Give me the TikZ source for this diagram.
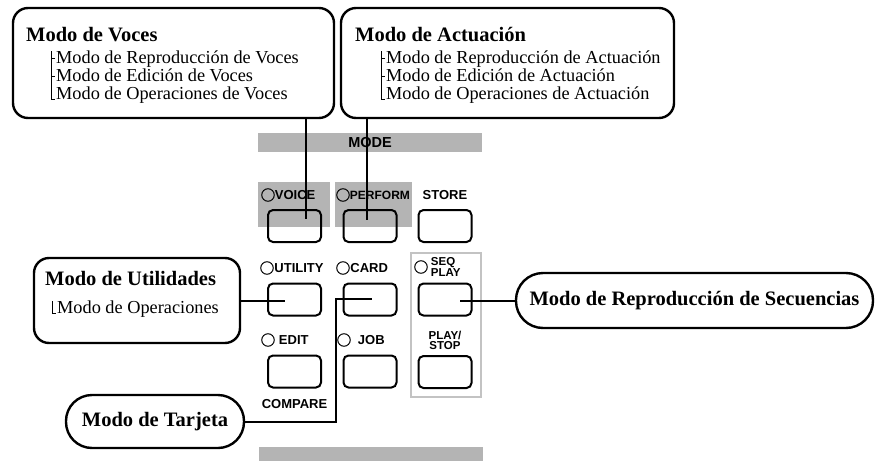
\documentclass[tikz,border=0pt]{standalone}
\usepackage{fontspec}
\setmainfont{Liberation Serif}
\setsansfont{Liberation Sans}
\usetikzlibrary{positioning, calc}
\definecolor{panelgray}{RGB}{180,180,180}
\definecolor{rimgray}{RGB}{195,195,195}

\begin{document}
\begin{tikzpicture}[x=1pt, y=-1pt,
    callout/.style={draw, line width=2.4pt, rounded corners=15pt, inner sep=0pt},
    pill/.style={draw, line width=2.4pt, inner sep=0pt, font=\fontsize{20.5}{22}\selectfont\bfseries},
    modetitle/.style={anchor=base west, inner sep=0pt, font=\fontsize{20.5}{22}\selectfont\bfseries},
    submode/.style={anchor=base west, inner sep=0pt, font=\fontsize{18.3}{20}\selectfont},
    key/.style={draw, line width=2pt, rounded corners=5pt, minimum width=53pt, minimum height=32pt, inner sep=0pt},
    lamp/.style={draw, circle, line width=1pt, minimum size=12.5pt, inner sep=0pt},
    keylabel/.style={inner sep=0pt, align=center, font=\sffamily\bfseries\fontsize{13}{10}\selectfont},
    twoline/.style={keylabel, font=\sffamily\bfseries\fontsize{11.5}{10}\selectfont},
    lead/.style={line width=2pt},
    treeline/.style={line width=0.8pt}
  ]
  \useasboundingbox (0,0) rectangle (876,461);

  % panel
  \fill[panelgray] (258,182) rectangle (330,227);
  \fill[panelgray] (335,182) rectangle (412,227);
  \node[fill=panelgray, minimum width=224pt, minimum height=19pt, inner sep=0pt,
        font=\sffamily\bfseries\fontsize{14.5}{14}\selectfont] (modebar) at (370,142.5) {MODE};
  \fill[panelgray] (259,447) rectangle (483,461);
  \draw[rimgray, line width=2.5pt] (411,253) rectangle (481,397);

  % keys
  \node[key] (bvoice)   at (294.5,226)   {};
  \node[key] (bperform) at (370,226)     {};
  \node[key] (bstore)   at (445,226)     {};
  \node[key] (butility) at (294.5,299.5) {};
  \node[key] (bcard)    at (370,299.5)   {};
  \node[key] (bseq)     at (445,299.5)   {};
  \node[key] (bedit)    at (294.5,371.5) {};
  \node[key] (bjob)     at (370,371.5)   {};
  \node[key] (bplay)    at (445,372)     {};

  % lamps and key labels
  \node[lamp] (lvoice)   at (268,195) {};
  \node[lamp] (lperform) at (343,195) {};
  \node[lamp] (lutility) at (267,268) {};
  \node[lamp] (lcard)    at (343,268) {};
  \node[lamp] (lseq)     at (421,267) {};
  \node[lamp] (ledit)    at (268,340) {};
  \node[lamp] (ljob)     at (344,340) {};
  \node[keylabel, right=0pt of lvoice]   (tvoice)   {VOICE};
  \node[keylabel, right=0pt of lperform, font=\sffamily\bfseries\fontsize{12}{10}\selectfont] (tperform) {PERFORM};
  \node[keylabel] (tstore) at (445,195) {STORE};
  \node[keylabel, right=0.5pt of lutility] (tutility) {UTILITY};
  \node[keylabel, right=0.5pt of lcard]    (tcard)    {CARD};
  \node[twoline, right=3pt of lseq, align=left] (tseq) {SEQ\\PLAY};
  \node[keylabel, right=4pt of ledit]     (tedit)    {EDIT};
  \node[keylabel, right=7pt of ljob]      (tjob)     {JOB};
  \node[twoline, above=5pt of bplay]      (tplay)    {PLAY/\\STOP};
  \node[keylabel, below=11pt of bedit]    (tcompare) {COMPARE};

  % mode boxes
  \node[callout, minimum width=321pt, minimum height=110pt] (vocesbox) at (173.5,63) {};
  \node[callout, minimum width=333pt, minimum height=110pt] (actbox)   at (507.5,63) {};
  \node[callout, minimum width=206pt, minimum height=85pt]  (utilbox)  at (137,300.5) {};
  \node[pill, rounded corners=26pt, minimum width=178pt, minimum height=53pt] (tarjeta) at (155,421.5) {Modo de Tarjeta};
  \node[pill, rounded corners=27pt, minimum width=357pt, minimum height=55pt] (secuencias) at (694.5,300.5) {Modo de Reproducción de Secuencias};

  \node[modetitle] (vocestitle) at (26,41) {Modo de Voces};
  \node[submode] (v1) at (56,63) {Modo de Reproducción de Voces};
  \node[submode] (v2) at (56,81) {Modo de Edición de Voces};
  \node[submode] (v3) at (56,99) {Modo de Operaciones de Voces};

  \node[modetitle] (acttitle) at (355,41) {Modo de Actuación};
  \node[submode] (a1) at (386,63) {Modo de Reproducción de Actuación};
  \node[submode] (a2) at (386,81) {Modo de Edición de Actuación};
  \node[submode] (a3) at (386,99) {Modo de Operaciones de Actuación};

  \node[modetitle] (utiltitle) at (45,285) {Modo de Utilidades};
  \node[submode] (u1) at (57,313) {Modo de Operaciones};

  % tree marks
  \foreach \top/\last in {v1/v3, a1/a3, u1/u1}
    \draw[treeline] ($(\top.base west)+(-5,-12)$) -- ($(\last.base west)+(-5,0)$) -- ($(\last.base west)+(-1,0)$);
  \foreach \s in {v1, v2, a1, a2}
    \draw[treeline] ($(\s.base west)+(-5,-5)$) -- ++(4,0);

  % leads
  \coordinate (vtip) at (306,219);
  \coordinate (ptip) at (367,220);
  \coordinate (utip) at (285,300.5);
  \coordinate (cbend) at (336,299);
  \coordinate (ctip) at (372,299);
  \coordinate (stip) at (460,300.5);
  \draw[lead] (vocesbox.south -| vtip) -- (vtip);
  \draw[lead] (actbox.south -| ptip) -- (ptip);
  \draw[lead] (utilbox.east) -- (utip);
  \draw[lead] (tarjeta.east) -| (cbend) -- (ctip);
  \draw[lead] (secuencias.west) -- (stip);
\end{tikzpicture}
\end{document}
